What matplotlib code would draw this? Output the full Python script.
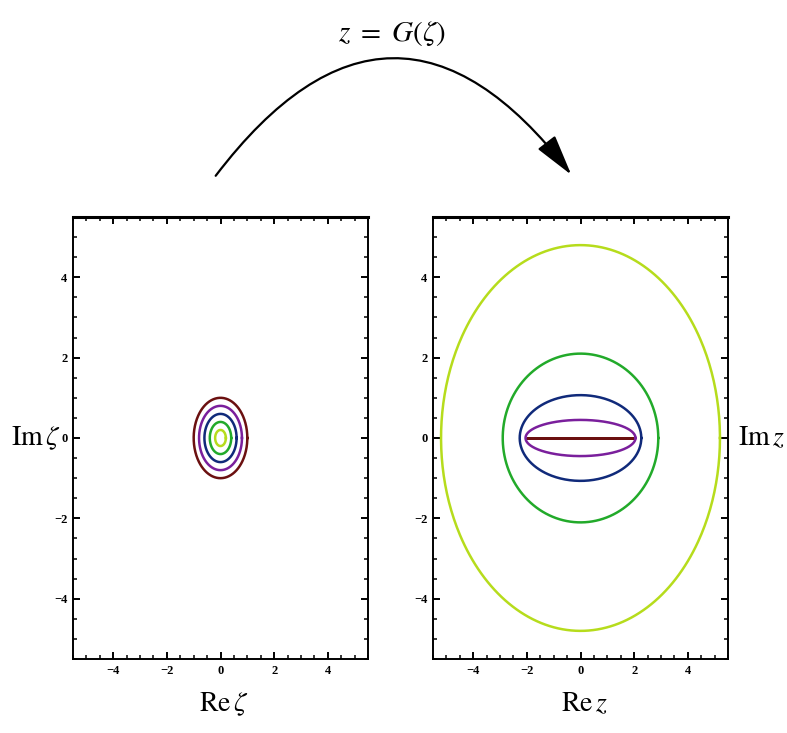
import numpy as np
import matplotlib
matplotlib.use('Agg')
from matplotlib import pyplot as plt
from matplotlib.patches import FancyArrowPatch
from matplotlib.ticker import MultipleLocator

plt.rcParams['font.family'] = ['Liberation Serif', 'DejaVu Serif']
plt.rcParams['mathtext.fontset'] = 'stix'

# radii of the circles in the zeta plane, and their colours
radii = [1.0, 0.8, 0.6, 0.4, 0.2]
colors = ['#6b1010', '#7a1f9c', '#102a7a', '#22aa2a', '#b6dc1c']
major_ticks = [-4, -2, 0, 2, 4]
lim = 5.5

fig = plt.figure(figsize=(7.87, 7.33), dpi=100)
ax1 = fig.add_axes([73 / 787, 1 - 659 / 733, 295 / 787, 442 / 733])
ax2 = fig.add_axes([433 / 787, 1 - 659 / 733, 295 / 787, 442 / 733])

t = np.linspace(0, 2 * np.pi, 400)
for r, c in zip(radii, colors):
    zeta = r * np.exp(1j * t)
    z = zeta + 1 / zeta  # Joukowski map G
    ax1.plot(zeta.real, zeta.imag, color=c, lw=1.8)
    ax2.plot(z.real, z.imag, color=c, lw=1.8)

for ax in (ax1, ax2):
    ax.set_xlim(-lim, lim)
    ax.set_ylim(-lim, lim)
    ax.set_xticks(major_ticks)
    ax.set_yticks(major_ticks)
    ax.xaxis.set_minor_locator(MultipleLocator(0.5))
    ax.yaxis.set_minor_locator(MultipleLocator(0.5))
    ax.tick_params(which='both', direction='in', top=True, right=True,
                   labelsize=9, pad=4)
    ax.tick_params(which='major', length=5, width=1.4)
    ax.tick_params(which='minor', length=3, width=1.1)
    for lab in ax.get_xticklabels() + ax.get_yticklabels():
        lab.set_fontweight('bold')
    for s in ax.spines.values():
        s.set_linewidth(1.4)
    ax.spines['top'].set_linewidth(2.2)

fig.text(60 / 787, 1 - 438 / 733, r'$\mathrm{Im}\,\zeta$', fontsize=20,
         ha='right', va='center')
fig.text(224 / 787, 1 - 704 / 733, r'$\mathrm{Re}\,\zeta$', fontsize=20,
         ha='center', va='center')
fig.text(738 / 787, 1 - 438 / 733, r'$\mathrm{Im}\,z$', fontsize=20,
         ha='left', va='center')
fig.text(584 / 787, 1 - 704 / 733, r'$\mathrm{Re}\,z$', fontsize=20,
         ha='center', va='center')
fig.text(392 / 787, 1 - 33 / 733, r'$z\ =\ G(\zeta)$', fontsize=21,
         ha='center', va='center')

arrow = FancyArrowPatch((214 / 787, 1 - 178 / 733), (573 / 787, 1 - 177 / 733),
                        transform=fig.transFigure,
                        connectionstyle='arc3,rad=-0.66',
                        arrowstyle='-|>,head_length=1.7,head_width=0.45',
                        mutation_scale=15, lw=1.6, color='black')
fig.patches.append(arrow)

fig.savefig('out.png', dpi=100)
